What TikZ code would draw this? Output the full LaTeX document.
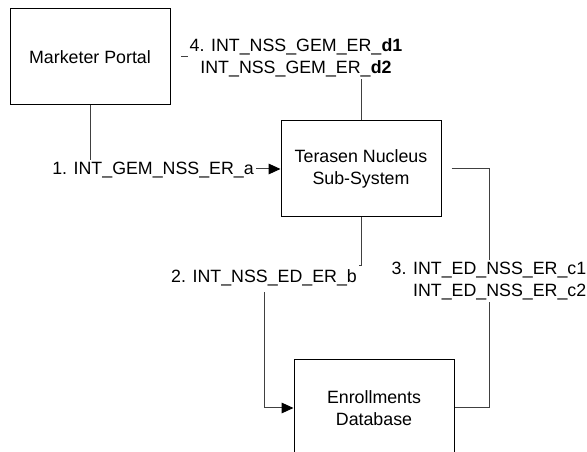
\documentclass[tikz,border=0pt]{standalone}
\usepackage{fontspec}
\setmainfont{Liberation Sans}
\usetikzlibrary{arrows.meta,positioning,calc}

\begin{document}
\begin{tikzpicture}[x=0.75pt, y=-0.75pt,
    box/.style={draw, line width=0.75pt, minimum width=120pt, minimum height=72pt,
        align=center, font=\fontsize{13.35}{16.5}\selectfont},
    conn/.style={draw=black!75, line width=0.75pt},
    lbl/.style={fill=white, inner sep=1.5pt, align=center,
        font=\fontsize{13.35}{16.5}\selectfont},
    tip/.style={-{Triangle[length=9pt, width=8pt, color=black]}}]
    \useasboundingbox (0,0) rectangle (587,452);
    \clip (0,0) rectangle (587,452);

    % Systems
    \node[box] (mp) at (90,57) {Marketer Portal};
    \node[box] (tn) at (361,169) {Terasen Nucleus\\Sub-System};
    \node[box] (db) at (374,408) {Enrollments\\Database};

    % 1. Portal to Nucleus
    \draw[conn, tip] (mp.south) |- (tn.west);
    \node[lbl] (l1) at (153,170) {1. INT\_GEM\_NSS\_ER\_a};

    % 2. Nucleus to Enrollments
    \coordinate (b2) at (264,266);
    \draw[conn, tip] (tn.south) |- (b2) |- (db.west);
    \node[lbl, inner ysep=4.5pt] (l2) at (264,278) {2. INT\_NSS\_ED\_ER\_b};

    % 3. Enrollments back to Nucleus
    \coordinate (c3) at (489,169);
    \draw[conn] ([xshift=7.5pt]tn.east) -- (c3) |- (db.east);
    \node[lbl, align=right] (l3) at (489,281) {3. INT\_ED\_NSS\_ER\_c1\\INT\_ED\_NSS\_ER\_c2};

    % 4. Nucleus back to Portal
    \coordinate (c4) at (361,57);
    \draw[conn] (tn.north) -- (c4) -- ([xshift=7.5pt]mp.east);
    \node[lbl] (l4) at (296,58) {4. INT\_NSS\_GEM\_ER\_\textbf{d1}\\INT\_NSS\_GEM\_ER\_\textbf{d2}};
\end{tikzpicture}
\end{document}
